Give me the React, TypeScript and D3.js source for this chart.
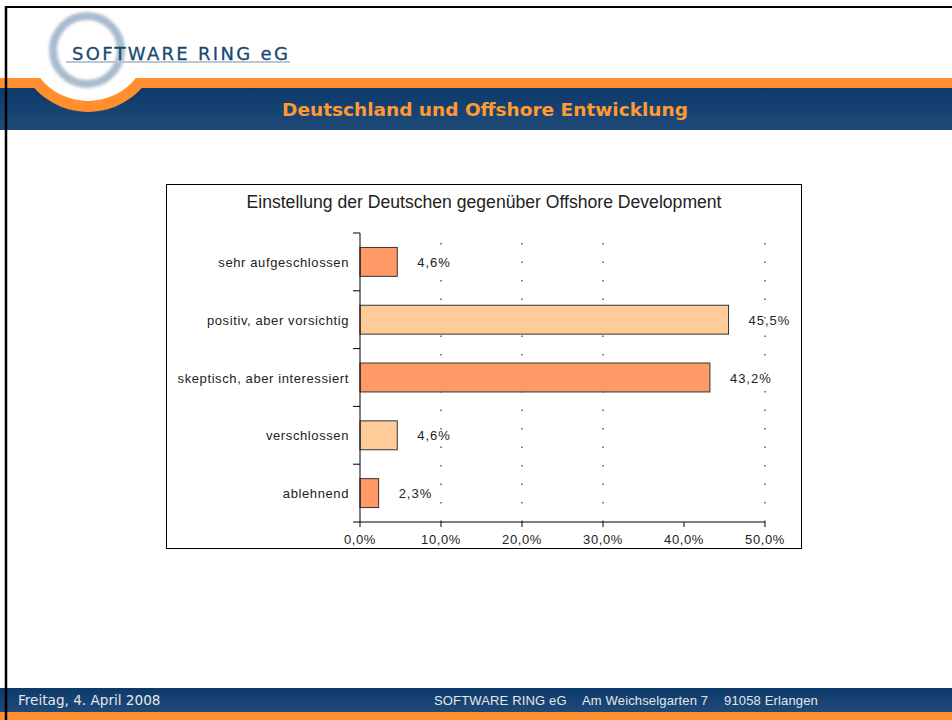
import React from "react";
import * as d3 from "d3";

const categories = [
  "sehr aufgeschlossen",
  "positiv, aber vorsichtig",
  "skeptisch, aber interessiert",
  "verschlossen",
  "ablehnend",
];
const values = [4.6, 45.5, 43.2, 4.6, 2.3];
const barColors = ["#FF9966", "#FFCC99", "#FF9966", "#FFCC99", "#FF9966"];
const xTicks = [0, 10, 20, 30, 40, 50];
const gridTicks = [10, 20, 30, 50];
const chartTitle = "Einstellung der Deutschen gegenüber Offshore Development";
const pageTitle = "Deutschland und Offshore Entwicklung";
const footerDate = "Freitag, 4. April 2008";
const footerParts = ["SOFTWARE RING eG", "Am Weichselgarten 7", "91058 Erlangen"];

const fmt = (v: number) => d3.format(".1f")(v).replace(".", ",") + "%";

export default function App() {
  const W = 952;
  const H = 720;
  const x = d3.scaleLinear().domain([0, 50]).range([360, 765]);
  const y = d3.scaleBand<string>().domain(categories).range([233, 522]).paddingInner(0.5).paddingOuter(0.25);
  const band = d3.scaleBand<string>().domain(categories).range([233, 522]);
  const sans = "'Liberation Sans', Arial, sans-serif";
  const verd = "'DejaVu Sans', Verdana, sans-serif";
  const bounds = [...categories.map((c) => band(c) as number), 522];

  return (
    <svg width={W} height={H} style={{ position: "absolute", left: 0, top: 0, background: "#fff" }}>
      <defs>
        <linearGradient id="blueG" x1="0" y1="0" x2="0" y2="1">
          <stop offset="0" stopColor="#0d3a6b" />
          <stop offset="1" stopColor="#1f4a78" />
        </linearGradient>
        <filter id="blur" x="-20%" y="-20%" width="140%" height="140%">
          <feGaussianBlur stdDeviation="1.6" />
        </filter>
        <clipPath id="belowTop">
          <rect x={0} y={78} width={W} height={60} />
        </clipPath>
      </defs>
      <rect x={0} y={0} width={W} height={H} fill="#fff" />
      {/* header bands */}
      <rect x={0} y={78} width={W} height={10} fill="#FF8F2E" />
      <rect x={0} y={88} width={W} height={42} fill="url(#blueG)" />
      <g clipPath="url(#belowTop)">
        <circle cx={88} cy={40} r={72} fill="#FF8F2E" />
        <circle cx={88} cy={40} r={61} fill="#fff" />
      </g>
      <circle cx={87} cy={50} r={34} fill="none" stroke="#a9bccf" strokeWidth={8} filter="url(#blur)" />
      <line x1={66} x2={290} y1={62} y2={62} stroke="#bcc6ce" strokeWidth={2} />
      <text x={72} y={60} fontFamily={verd} fontSize={18} letterSpacing={2.3} fill="#174a72" stroke="#174a72" strokeWidth={0.3}>
        SOFTWARE RING eG
      </text>
      <text x={485} y={116} textAnchor="middle" fontFamily={verd} fontWeight="bold" fontSize={18.5} fill="#FF9933">
        {pageTitle}
      </text>

      {/* chart frame */}
      <rect x={166.5} y={184.5} width={635} height={364} fill="#fff" stroke="#000" strokeWidth={1} />
      <text x={484} y={208} textAnchor="middle" fontFamily={sans} fontSize={17.6} fill="#222">
        {chartTitle}
      </text>

      {/* grid */}
      {gridTicks.map((t) => (
        <line
          key={"g" + t}
          x1={x(t)}
          x2={x(t)}
          y1={233}
          y2={522}
          stroke="#444"
          strokeWidth={1.3}
          strokeDasharray="1.5 17"
          strokeDashoffset={8.5}
        />
      ))}

      {/* bars */}
      {categories.map((c, i) => (
        <g key={c}>
          <rect
            x={x(0)}
            y={y(c)}
            width={x(values[i]) - x(0)}
            height={y.bandwidth()}
            fill={barColors[i]}
            stroke="#333"
            strokeWidth={1}
          />
          <text
            x={x(values[i]) + 20}
            y={(band(c) as number) + band.bandwidth() / 2 + 5}
            fontFamily={sans}
            fontSize={13}
            letterSpacing={1}
            fill="#222"
          >
            {fmt(values[i])}
          </text>
          <text
            x={349}
            y={(band(c) as number) + band.bandwidth() / 2 + 5}
            textAnchor="end"
            fontFamily={sans}
            fontSize={13}
            letterSpacing={0.6}
            fill="#222"
          >
            {c}
          </text>
        </g>
      ))}

      {/* axes */}
      <line x1={360} x2={360} y1={233} y2={522} stroke="#000" strokeWidth={1} />
      {bounds.map((b, i) => (
        <line key={"yt" + i} x1={353} x2={360} y1={b} y2={b} stroke="#000" strokeWidth={1} />
      ))}
      <line x1={360} x2={765} y1={522} y2={522} stroke="#000" strokeWidth={1} />
      {xTicks.map((t) => (
        <g key={"xt" + t}>
          <line x1={x(t)} x2={x(t)} y1={522} y2={527} stroke="#000" strokeWidth={1} />
          <text x={x(t)} y={544} textAnchor="middle" fontFamily={sans} fontSize={13} letterSpacing={0.6} fill="#222">
            {fmt(t)}
          </text>
        </g>
      ))}

      {/* footer */}
      <rect x={0} y={688} width={W} height={24} fill="url(#blueG)" />
      <rect x={0} y={712} width={W} height={8} fill="#FF8F2E" />
      <text x={18} y={705} fontFamily={verd} fontSize={13.6} fill="#e6e6e6">
        {footerDate}
      </text>
      <text x={434} y={705} fontFamily={sans} fontSize={13} letterSpacing={0.15} fill="#e6e6e6">
        <tspan>{footerParts[0]}</tspan>
        <tspan x={582}>{footerParts[1]}</tspan>
        <tspan x={724}>{footerParts[2]}</tspan>
      </text>

      {/* outer border */}
      <line x1={5} x2={W} y1={7} y2={7} stroke="#000" strokeWidth={2} />
      <line x1={6} x2={6} y1={6} y2={H} stroke="#000" strokeWidth={2.5} />
    </svg>
  );
}
